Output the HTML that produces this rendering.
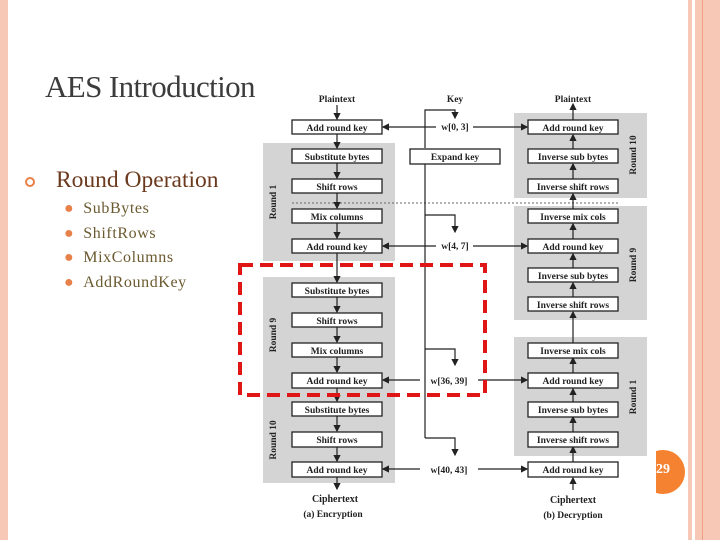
<!DOCTYPE html>
<html><head><style>
body{margin:0;width:720px;height:540px;overflow:hidden;background:#fff;position:relative;font-family:"Liberation Serif",serif}
.a{position:absolute}
</style></head><body>
<div class="a" style="left:0;top:0;width:8px;height:540px;background:#f8c8b6"></div>
<div class="a" style="left:688px;top:0;width:4px;height:540px;background:#f8c8b6"></div>
<div class="a" style="left:695px;top:0;width:25px;height:540px;background:#f8c8b6"></div>
<div class="a" style="left:702px;top:0;width:1px;height:540px;background:#f0a080"></div>
<div class="a" style="left:656px;top:450px;width:30px;height:44px;overflow:hidden"><div style="position:absolute;left:-15px;top:0;width:44px;height:44px;border-radius:50%;background:#f58231"></div><div style="position:absolute;left:0;top:12px;color:#fff;font-size:14px;font-weight:bold">29</div></div>
<div class="a" style="left:45px;top:69px;font-size:31px;color:#3c3c3c;letter-spacing:-0.6px">AES Introduction</div>
<div class="a" style="left:25px;top:177px;width:6px;height:6px;border:2.5px solid #e8804a;border-radius:50%"></div>
<div class="a" style="left:56px;top:167px;font-size:23.5px;color:#6b3a1e">Round Operation</div>
<div class="a" style="left:64px;top:197px;font-size:16px;color:#6b5a30;line-height:24.5px;letter-spacing:0.6px">
<div><span style="color:#e8804a;margin-right:9px">●</span>SubBytes</div>
<div><span style="color:#e8804a;margin-right:9px">●</span>ShiftRows</div>
<div><span style="color:#e8804a;margin-right:9px">●</span>MixColumns</div>
<div><span style="color:#e8804a;margin-right:9px">●</span>AddRoundKey</div>
</div>
<svg class="a" style="left:0;top:0" width="720" height="540" font-family="Liberation Serif,serif" font-weight="bold" font-size="9.5">
<defs><marker id="m" markerWidth="6" markerHeight="6" refX="5" refY="3" orient="auto"><path d="M0,0L6,3L0,6z" fill="#222"/></marker></defs>
<g fill="#d4d4d4">
<rect x="263" y="143" width="132" height="118"/><rect x="263" y="277" width="132" height="115"/><rect x="263" y="392" width="132" height="91"/>
<rect x="514" y="113" width="133" height="85"/><rect x="514" y="206" width="133" height="114"/><rect x="514" y="337" width="133" height="119"/>
</g>
<line x1="292" y1="203" x2="618" y2="203" stroke="#666" stroke-dasharray="2,2"/>
<g stroke="#222" stroke-width="1.2" fill="none">
<line x1="337" y1="105" x2="337" y2="119" marker-end="url(#m)"/>
<line x1="337" y1="134" x2="337" y2="148" marker-end="url(#m)"/>
<line x1="337" y1="163" x2="337" y2="178" marker-end="url(#m)"/>
<line x1="337" y1="193" x2="337" y2="208" marker-end="url(#m)"/>
<line x1="337" y1="223" x2="337" y2="238" marker-end="url(#m)"/>
<line x1="337" y1="253" x2="337" y2="282" marker-end="url(#m)"/>
<line x1="337" y1="297" x2="337" y2="312" marker-end="url(#m)"/>
<line x1="337" y1="327" x2="337" y2="342" marker-end="url(#m)"/>
<line x1="337" y1="357" x2="337" y2="372" marker-end="url(#m)"/>
<line x1="337" y1="388" x2="337" y2="401" marker-end="url(#m)"/>
<line x1="337" y1="416" x2="337" y2="431" marker-end="url(#m)"/>
<line x1="337" y1="447" x2="337" y2="461" marker-end="url(#m)"/>
<line x1="337" y1="477" x2="337" y2="489" marker-end="url(#m)"/>
<line x1="573" y1="120" x2="573" y2="104" marker-end="url(#m)"/>
<line x1="573" y1="149" x2="573" y2="135" marker-end="url(#m)"/>
<line x1="573" y1="179" x2="573" y2="164" marker-end="url(#m)"/>
<line x1="573" y1="209" x2="573" y2="194" marker-end="url(#m)"/>
<line x1="573" y1="239" x2="573" y2="224" marker-end="url(#m)"/>
<line x1="573" y1="268" x2="573" y2="254" marker-end="url(#m)"/>
<line x1="573" y1="297" x2="573" y2="283" marker-end="url(#m)"/>
<line x1="573" y1="343" x2="573" y2="312" marker-end="url(#m)"/>
<line x1="573" y1="373" x2="573" y2="358" marker-end="url(#m)"/>
<line x1="573" y1="402" x2="573" y2="389" marker-end="url(#m)"/>
<line x1="573" y1="432" x2="573" y2="417" marker-end="url(#m)"/>
<line x1="573" y1="462" x2="573" y2="447" marker-end="url(#m)"/>
<line x1="573" y1="490" x2="573" y2="478" marker-end="url(#m)"/>
<path d="M425,148V110H455V118" marker-end="url(#m)"/>
<line x1="425" y1="164" x2="425" y2="438"/>
<path d="M425,215H455V232" marker-end="url(#m)"/>
<path d="M425,349H455V365" marker-end="url(#m)"/>
<path d="M425,438H455V455" marker-end="url(#m)"/>
<line x1="436" y1="127" x2="383" y2="127" marker-end="url(#m)"/><line x1="473" y1="127" x2="527" y2="127" marker-end="url(#m)"/>
<line x1="436" y1="246" x2="383" y2="246" marker-end="url(#m)"/><line x1="473" y1="246" x2="527" y2="246" marker-end="url(#m)"/>
<line x1="420" y1="380" x2="383" y2="380" marker-end="url(#m)"/><line x1="478" y1="380" x2="527" y2="380" marker-end="url(#m)"/>
<line x1="420" y1="469" x2="383" y2="469" marker-end="url(#m)"/><line x1="478" y1="469" x2="527" y2="469" marker-end="url(#m)"/>
</g>
<g fill="#fff" stroke="#222" stroke-width="1.3">
<rect x="292" y="120" width="90" height="14"/><rect x="292" y="149" width="90" height="14"/><rect x="292" y="179" width="90" height="14"/><rect x="292" y="209" width="90" height="14"/><rect x="292" y="239" width="90" height="14"/>
<rect x="292" y="283" width="90" height="14"/><rect x="292" y="313" width="90" height="14"/><rect x="292" y="343" width="90" height="14"/><rect x="292" y="373" width="90" height="15"/>
<rect x="292" y="402" width="90" height="14"/><rect x="292" y="432" width="90" height="15"/><rect x="292" y="462" width="90" height="15"/>
<rect x="410" y="149" width="90" height="15"/>
<rect x="528" y="120" width="90" height="14"/><rect x="528" y="149" width="90" height="14"/><rect x="528" y="179" width="90" height="14"/><rect x="528" y="209" width="90" height="14"/><rect x="528" y="239" width="90" height="14"/><rect x="528" y="268" width="90" height="14"/><rect x="528" y="297" width="90" height="14"/>
<rect x="528" y="343" width="90" height="15"/><rect x="528" y="373" width="90" height="15"/><rect x="528" y="402" width="90" height="15"/><rect x="528" y="432" width="90" height="15"/><rect x="528" y="462" width="90" height="15"/>
</g>
<g fill="#222" text-anchor="middle">
<text x="337" y="131">Add round key</text><text x="337" y="160">Substitute bytes</text><text x="337" y="190">Shift rows</text><text x="337" y="220">Mix columns</text><text x="337" y="250">Add round key</text>
<text x="337" y="294">Substitute bytes</text><text x="337" y="324">Shift rows</text><text x="337" y="354">Mix columns</text><text x="337" y="384">Add round key</text>
<text x="337" y="413">Substitute bytes</text><text x="337" y="443">Shift rows</text><text x="337" y="473">Add round key</text>
<text x="455" y="160">Expand key</text>
<text x="573" y="131">Add round key</text><text x="573" y="160">Inverse sub bytes</text><text x="573" y="190">Inverse shift rows</text><text x="573" y="220">Inverse mix cols</text><text x="573" y="250">Add round key</text><text x="573" y="279">Inverse sub bytes</text><text x="573" y="308">Inverse shift rows</text>
<text x="573" y="354">Inverse mix cols</text><text x="573" y="384">Add round key</text><text x="573" y="413">Inverse sub bytes</text><text x="573" y="443">Inverse shift rows</text><text x="573" y="473">Add round key</text>
<text x="337" y="102">Plaintext</text><text x="455" y="102">Key</text><text x="573" y="102">Plaintext</text>
<text x="455" y="130">w[0, 3]</text><text x="455" y="249">w[4, 7]</text><text x="449" y="384">w[36, 39]</text><text x="449" y="473">w[40, 43]</text>
<text x="335" y="502" font-size="10">Ciphertext</text><text x="573" y="503" font-size="10">Ciphertext</text>
<text x="333" y="517">(a) Encryption</text><text x="573" y="518">(b) Decryption</text>
<text transform="translate(276,202) rotate(-90)">Round 1</text>
<text transform="translate(276,335) rotate(-90)">Round 9</text>
<text transform="translate(276,440) rotate(-90)">Round 10</text>
<text transform="translate(636,155) rotate(-90)">Round 10</text>
<text transform="translate(636,265) rotate(-90)">Round 9</text>
<text transform="translate(636,397) rotate(-90)">Round 1</text>
</g>
<rect x="240" y="265" width="245" height="130" fill="none" stroke="#e01515" stroke-width="4" stroke-dasharray="13,7"/>
</svg>
</body></html>
